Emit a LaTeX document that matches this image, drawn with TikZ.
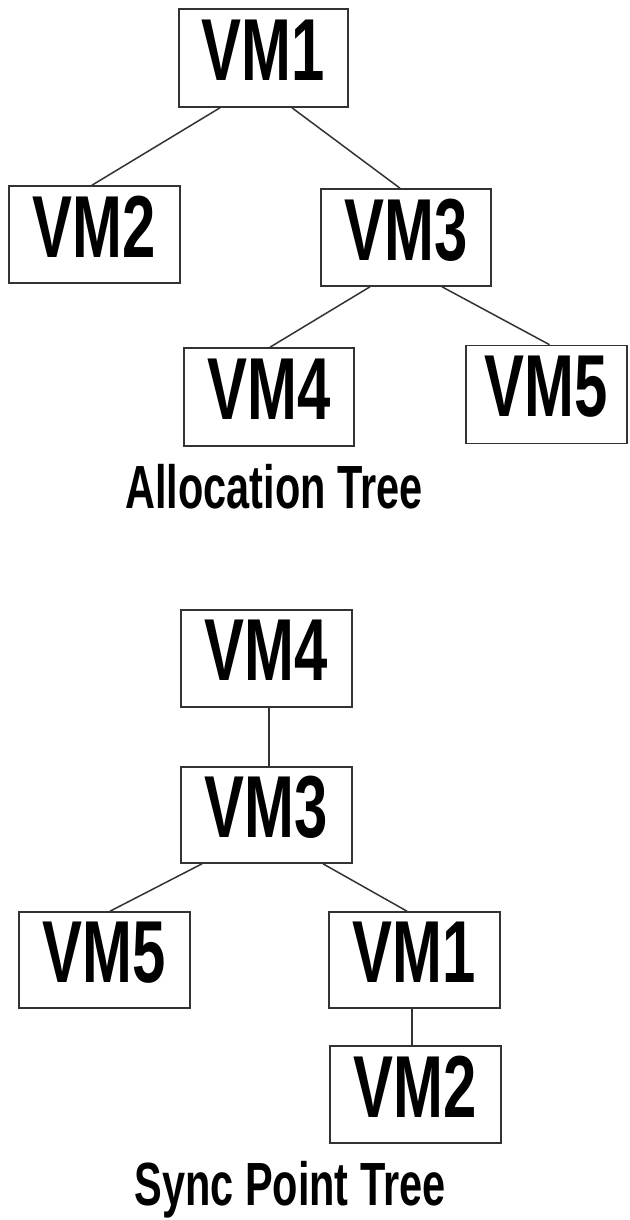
\documentclass[tikz,border=0pt]{standalone}
\usepackage{fontspec}
\newfontfamily\vmfont[FakeStretch=0.68]{Liberation Sans}
\usepackage{tikz}
\usetikzlibrary{positioning}
\definecolor{BoxGray}{HTML}{333333}

\begin{document}
\begin{tikzpicture}[x=1pt,y=-1pt,
  vm/.style={draw=BoxGray,line width=1.6pt,minimum width=170pt,minimum height=97pt,
    inner sep=0pt,text depth=16pt,font=\vmfont\bfseries\fontsize{88}{88}\selectfont},
  caption/.style={anchor=base,inner sep=0pt,font=\vmfont\bfseries\fontsize{61}{61}\selectfont},
  link/.style={line width=1.5pt,BoxGray}]
  \useasboundingbox (0,0) rectangle (629,1220);
  % allocation tree
  \node[vm,minimum width=169pt,minimum height=98pt] (a1) at (263.5,58) {VM1};
  \node[vm,minimum width=171pt] (a2) at (94.5,234.5) {VM2};
  \node[vm] (a3) at (406,237.5) {VM3};
  \node[vm,minimum height=98pt] (a4) at (269,397) {VM4};
  \node[vm,minimum width=161pt,minimum height=98pt] (a5) at (546.5,394.5) {VM5};
  \node[caption] (alloc) at (274,508) {Allocation Tree};
  \draw[link] ([xshift=-43.5pt]a1.south) -- ([xshift=-2.5pt]a2.north);
  \draw[link] ([xshift=28.5pt]a1.south) -- ([xshift=-6pt]a3.north);
  \draw[link] ([xshift=-36pt]a3.south) -- ([xshift=1pt]a4.north);
  \draw[link] ([xshift=36pt]a3.south) -- ([xshift=3pt]a5.north);
  % sync point tree
  \node[vm,minimum width=171pt] (b4) at (266.5,658.5) {VM4};
  \node[vm,minimum width=171pt,minimum height=96pt] (b3) at (266.5,815) {VM3};
  \node[vm,minimum width=171pt,minimum height=96pt] (b5) at (104.5,960) {VM5};
  \node[vm,minimum width=171pt,minimum height=96pt] (b1) at (414.5,960) {VM1};
  \node[vm,minimum width=171pt] (b2) at (415.5,1094.5) {VM2};
  \node[caption] (sync) at (290,1205) {Sync Point Tree};
  \draw[link] ([xshift=2.5pt]b4.south) -- ([xshift=2.5pt]b3.north);
  \draw[link] ([xshift=-64.5pt]b3.south) -- ([xshift=5.5pt]b5.north);
  \draw[link] ([xshift=56.5pt]b3.south) -- ([xshift=-7.5pt]b1.north);
  \draw[link] ([xshift=-2.5pt]b1.south) -- ([xshift=-3.5pt]b2.north);
\end{tikzpicture}
\end{document}
